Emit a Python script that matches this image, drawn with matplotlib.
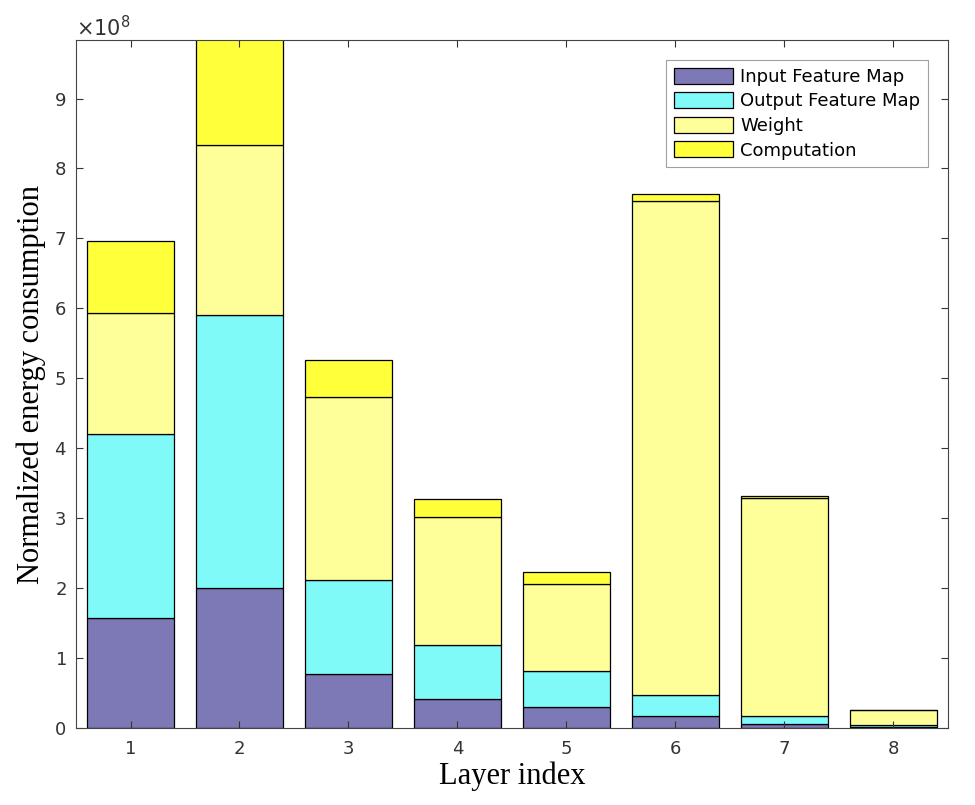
import numpy as np
import matplotlib
matplotlib.use("Agg")
import matplotlib.pyplot as plt

# cumulative tops, in units of 1e8
layers   = [1, 2, 3, 4, 5, 6, 7, 8]
ifm_top  = [1.57, 2.00, 0.77, 0.41, 0.30, 0.17, 0.05, 0.01]
ofm_top  = [4.20, 5.90, 2.11, 1.19, 0.81, 0.47, 0.17, 0.04]
wt_top   = [5.93, 8.33, 4.73, 3.01, 2.06, 7.53, 3.29, 0.25]
comp_top = [6.97, 9.90, 5.26, 3.27, 2.23, 7.64, 3.31, 0.26]

names  = ["Input Feature Map", "Output Feature Map", "Weight", "Computation"]
colors = ["#7d78b6", "#80f9f9", "#ffff99", "#ffff3a"]

tops = np.array([ifm_top, ofm_top, wt_top, comp_top]) * 1e8
heights = np.diff(np.vstack([np.zeros(len(layers)), tops]), axis=0)

fig = plt.figure(figsize=(9.75, 8.05), dpi=100)
ax = fig.add_axes([0.078, 0.0957, 0.894, 0.854])

bottom = np.zeros(len(layers))
for h, name, c in zip(heights, names, colors):
    ax.bar(layers, h, bottom=bottom, width=0.8, color=c, edgecolor="black",
           linewidth=0.9, label=name)
    bottom += h

ax.set_xlim(0.5, 8.5)
ax.set_ylim(0, 9.83e8)
ax.set_xticks(layers)
ax.set_yticks(np.arange(0, 10) * 1e8)
ax.ticklabel_format(axis="y", style="sci", scilimits=(8, 8), useMathText=True)
ax.yaxis.get_offset_text().set_fontsize(15)
ax.yaxis.get_offset_text().set_color("#333333")

ax.tick_params(direction="in", top=True, right=True, length=5,
               labelsize=13, colors="#333333")
ax.tick_params(axis="x", pad=9)
ax.tick_params(axis="y", pad=7)
for s in ax.spines.values():
    s.set_color("#444444")
    s.set_linewidth(0.8)

ax.set_xlabel("Layer index", family="Liberation Serif", fontsize=22, labelpad=2)
ax.set_ylabel("Normalized energy consumption", family="Liberation Serif",
              fontsize=22, labelpad=6)

leg = ax.legend(loc="upper right", fontsize=13, fancybox=False,
                borderaxespad=1.1, handlelength=3.3, handleheight=1.0,
                labelspacing=0.35, borderpad=0.4, handletextpad=0.4)
leg.get_frame().set_edgecolor("#888888")
leg.get_frame().set_linewidth(0.8)

fig.savefig("out.png", dpi=100)
